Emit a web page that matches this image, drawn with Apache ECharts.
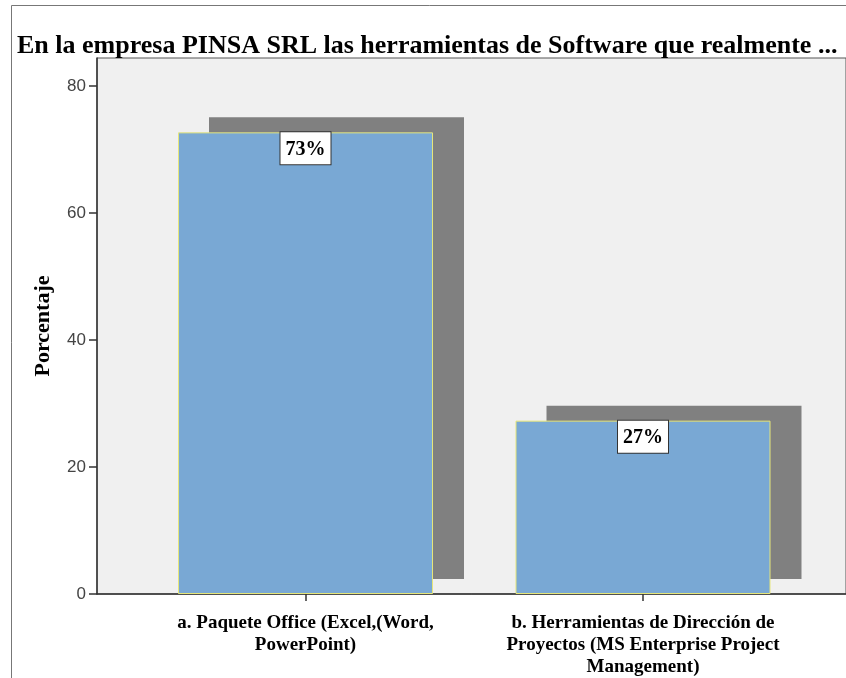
<!DOCTYPE html>
<html>
<head>
<meta charset="utf-8">
<script src="https://cdn.jsdelivr.net/npm/echarts@6/dist/echarts.min.js"></script>
<style>
  html, body { margin: 0; padding: 0; background: #fff; }
  #chart { width: 846px; height: 678px; }
</style>
</head>
<body>
<div id="chart"></div>
<script>
// datos del gráfico
const categorias = [
  'a. Paquete Office (Excel,(Word,\nPowerPoint)',
  'b. Herramientas de Dirección de\nProyectos (MS Enterprise Project\nManagement)'
];
const porcentajes = [72.7, 27.3];
const etiquetas = ['73%', '27%'];
const ticksY = [0, 20, 40, 60, 80];

const serif = '"Liberation Serif", "DejaVu Serif", serif';

const chart = echarts.init(document.getElementById('chart'));

const option = {
  backgroundColor: '#ffffff',
  animation: false,
  title: {
    text: 'En la empresa PINSA SRL las herramientas de Software que realmente ...',
    left: 12,
    top: 28,
    textStyle: { fontFamily: serif, fontWeight: 'bold', fontSize: 26, color: '#000' }
  },
  graphic: [
    // marco exterior
    { type: 'rect', shape: { x: 11.5, y: 5.5, width: 900, height: 700 },
      style: { fill: 'none', stroke: '#777', lineWidth: 1 }, z: -1, silent: true }
  ],
  grid: [
    // fondo del área de trazado
    { left: 97, right: -5, top: 58, bottom: 84, show: true,
      backgroundColor: '#f0f0f0', borderColor: '#555', borderWidth: 1 },
    // barras
    { left: 136.75, width: 675, top: 86, bottom: 84 },
    // sombra
    { left: 167.75, width: 675, top: 71, height: 508 },
    // marcas del eje Y
    { left: 97, right: -5, top: 86, bottom: 84 }
  ],
  xAxis: [
    { gridIndex: 0, type: 'category', data: ['', ''],
      axisLine: { lineStyle: { color: '#333', width: 1.5 } },
      axisTick: { show: false }, axisLabel: { show: false }, splitLine: { show: false } },
    { gridIndex: 1, type: 'category', data: categorias,
      axisLine: { show: false },
      axisTick: { show: true, alignWithLabel: true, length: 7, lineStyle: { color: '#333', width: 1.5 } },
      axisLabel: { interval: 0, margin: 18, fontFamily: serif, fontWeight: 'bold', fontSize: 19,
        color: '#000', lineHeight: 22, align: 'center' } },
    { gridIndex: 2, type: 'category', data: categorias, show: false },
    { gridIndex: 3, type: 'category', data: ['', ''], show: false }
  ],
  yAxis: [
    { gridIndex: 0, type: 'value', min: 0, max: 80,
      name: 'Porcentaje', nameLocation: 'middle', nameGap: 43, nameRotate: 90,
      nameTextStyle: { fontFamily: serif, fontWeight: 'bold', fontSize: 22, color: '#000' },
      axisLine: { show: true, lineStyle: { color: '#333', width: 1.5 } },
      axisTick: { show: false }, axisLabel: { show: false }, splitLine: { show: false } },
    { gridIndex: 1, type: 'value', min: 0, max: 80, show: false },
    { gridIndex: 2, type: 'value', min: 0, max: 80, show: false },
    { gridIndex: 3, type: 'value', min: 0, max: 80, interval: 20,
      axisLine: { show: false },
      axisTick: { show: true, length: 8, lineStyle: { color: '#333', width: 1.5 } },
      axisLabel: { margin: 11, fontFamily: '"Liberation Sans", sans-serif', fontSize: 17, color: '#444',
        formatter: v => (ticksY.indexOf(v) >= 0 ? String(v) : '') },
      splitLine: { show: false } }
  ],
  series: [
    {
      name: 'sombra', type: 'bar', xAxisIndex: 2, yAxisIndex: 2,
      data: porcentajes, barWidth: 255, z: 1, silent: true,
      itemStyle: { color: '#808080' }
    },
    {
      name: 'Porcentaje', type: 'bar', xAxisIndex: 1, yAxisIndex: 1,
      data: porcentajes, barWidth: 255, z: 3,
      itemStyle: { color: '#79a8d4', borderColor: '#e6e67a', borderWidth: 1 },
      label: {
        show: true, position: 'insideTop', distance: 0,
        formatter: p => etiquetas[p.dataIndex],
        fontFamily: serif, fontWeight: 'bold', fontSize: 20, color: '#000',
        backgroundColor: '#fff', borderColor: '#333', borderWidth: 1,
        padding: [7, 5, 5, 5]
      }
    }
  ]
};

chart.setOption(option);
</script>
</body>
</html>
